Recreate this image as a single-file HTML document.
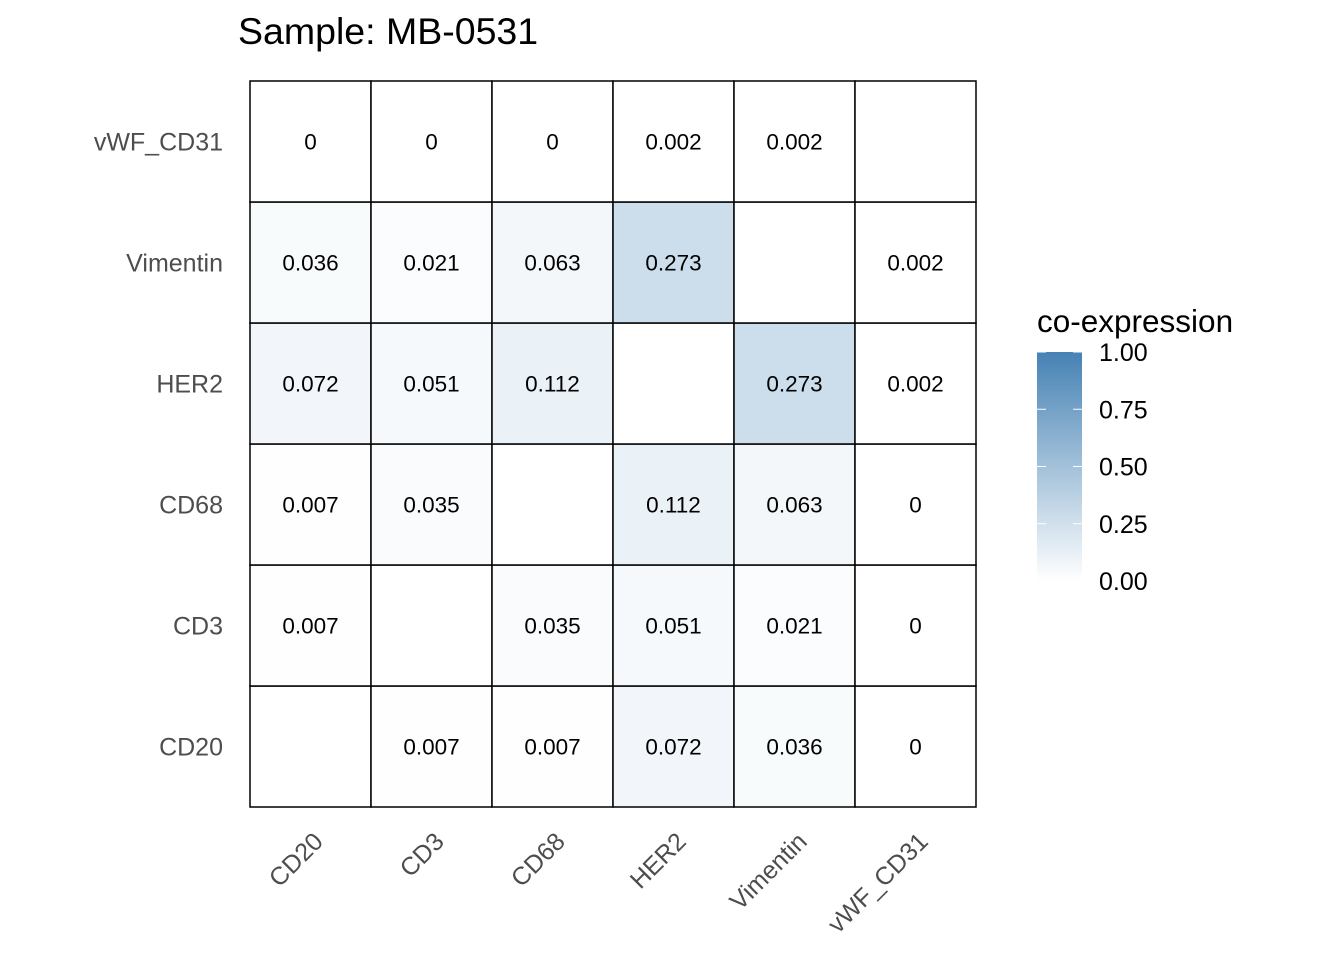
<!DOCTYPE html>
<html><head><meta charset="utf-8"><style>
html,body{margin:0;padding:0;background:#fff;}
svg{display:block;font-family:"Liberation Sans",sans-serif;}
</style></head><body>
<svg id="chart" width="1344" height="960" viewBox="0 0 1344 960">
<defs><linearGradient id="grad" x1="0" y1="1" x2="0" y2="0"><stop offset="0" stop-color="#ffffff"/><stop offset="1" stop-color="#4682b4"/></linearGradient></defs>
<text x="238" y="44" font-size="37.5" fill="#000">Sample: MB-0531</text>
<g id="cells"></g>
<g id="xlabels"></g>
<g id="ylabels"></g>
<g>
<text x="1037" y="332" font-size="31.5" fill="#000">co-expression</text>
<rect x="1037" y="352" width="45" height="229" fill="url(#grad)"/>
<g id="legticks"></g>
</g>
</svg>
<script>
const categories = ["CD20","CD3","CD68","HER2","Vimentin","vWF_CD31"];
const rowCD20 = [null,0.007,0.007,0.072,0.036,0];
const rowCD3 = [0.007,null,0.035,0.051,0.021,0];
const rowCD68 = [0.007,0.035,null,0.112,0.063,0];
const rowHER2 = [0.072,0.051,0.112,null,0.273,0.002];
const rowVimentin = [0.036,0.021,0.063,0.273,null,0.002];
const rowVWF = [0,0,0,0.002,0.002,null];
const values = [rowCD20,rowCD3,rowCD68,rowHER2,rowVimentin,rowVWF];
const legendTicks = [0,0.25,0.5,0.75,1];
const legendTickLabels = ["0.00","0.25","0.50","0.75","1.00"];

const NS="http://www.w3.org/2000/svg";
const x0=250,y0=81,W=726,H=726,n=categories.length,cw=W/n,ch=H/n;
const xPos=i=>x0+i*cw;
const yPos=j=>y0+(n-1-j)*ch;
function color(v){
  if(v===null)return "#ffffff";
  const r=Math.round(255+(70-255)*v),g=Math.round(255+(130-255)*v),b=Math.round(255+(180-255)*v);
  return `rgb(${r},${g},${b})`;
}
function mk(tag,attrs,parent){const e=document.createElementNS(NS,tag);for(const k in attrs)e.setAttribute(k,attrs[k]);parent.appendChild(e);return e;}
const cells=document.getElementById('cells');
values.forEach((row,j)=>row.forEach((v,i)=>{
  const r=mk('rect',{x:xPos(i),y:yPos(j),width:cw,height:ch,fill:color(v),stroke:'#000','stroke-width':1.5},cells);
  
  
  if(v!==null){
    const t=mk('text',{x:xPos(i)+cw/2,y:yPos(j)+ch/2+8,'font-size':22.5,'text-anchor':'middle',fill:'#000'},cells);
    t.textContent=String(v);
    
    
  }
}));
const xl=document.getElementById('xlabels');
categories.forEach((c,i)=>{
  const cx=xPos(i)+cw/2+14,cy=843;
  const t=mk('text',{x:cx,y:cy,'font-size':25,'text-anchor':'end',fill:'#4d4d4d',transform:`rotate(-45 ${cx} ${cy})`},xl);
  t.textContent=c;
  
  
});
const yl=document.getElementById('ylabels');
categories.forEach((c,j)=>{
  const t=mk('text',{x:223,y:yPos(j)+ch/2+9,'font-size':25,'text-anchor':'end',fill:'#4d4d4d'},yl);
  t.textContent=c;
  
  
});
const lt=document.getElementById('legticks');
const ly=v=>581-v*229;
legendTicks.forEach((v,k)=>{
  mk('line',{x1:1037,x2:1046,y1:ly(v),y2:ly(v),stroke:'#fff','stroke-width':1},lt);
  mk('line',{x1:1073,x2:1082,y1:ly(v),y2:ly(v),stroke:'#fff','stroke-width':1},lt);
  const t=mk('text',{x:1099,y:ly(v)+9,'font-size':25,fill:'#000'},lt);
  t.textContent=legendTickLabels[k];
  
  
});
</script>
</body></html>
